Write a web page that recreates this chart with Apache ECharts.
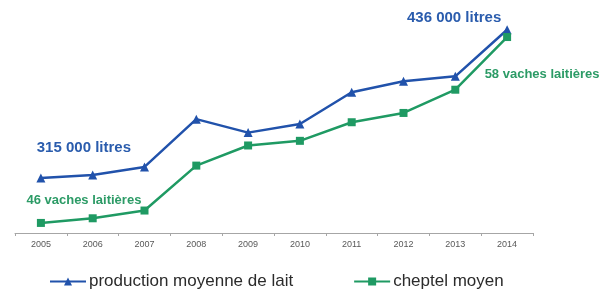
<!DOCTYPE html>
<html>
<head>
<meta charset="utf-8">
<script src="https://cdn.jsdelivr.net/npm/echarts@6/dist/echarts.min.js"></script>
<style>
  html, body { margin: 0; padding: 0; background: #fff; }
  #chart { width: 608px; height: 291px; }
</style>
</head>
<body>
<div id="chart"></div>
<script>
// data
const years = ['2005', '2006', '2007', '2008', '2009', '2010', '2011', '2012', '2013', '2014'];
const production = [315000, 317400, 324000, 363000, 352000, 359000, 385000, 394000, 398000, 436000];
const cheptel = [46, 46.3, 46.8, 49.7, 51, 51.3, 52.5, 53.1, 54.6, 58];
const productionLabels = ['315 000 litres', '436 000 litres'];
const cheptelLabels = ['46 vaches laitières', '58 vaches laitières'];

const BLUE = '#2152ab';
const GREEN = '#1f9a63';
const FONT = 'Liberation Sans, Arial, sans-serif';

const chart = echarts.init(document.getElementById('chart'));

// first and last points get the text labels
function labelled(values, texts, color, firstOffset, lastOffset, size) {
  return values.map((v, i) => {
    if (i === 0 || i === values.length - 1) {
      const first = i === 0;
      return {
        value: v,
        label: {
          show: true,
          formatter: first ? texts[0] : texts[1],
          color: color,
          fontWeight: 'bold',
          fontSize: size,
          fontFamily: FONT,
          position: 'inside',
          offset: first ? firstOffset : lastOffset
        }
      };
    }
    return v;
  });
}

chart.setOption({
  animation: false,
  grid: { left: 15, right: 75, top: 20, bottom: 58 },
  legend: {
    top: 268,
    left: 44,
    itemGap: 60,
    itemWidth: 36,
    itemHeight: 10,
    textStyle: { fontSize: 17, color: '#2b2b2b', fontFamily: FONT, padding: [0, 0, 0, -2] },
    data: ['production moyenne de lait', 'cheptel moyen']
  },
  xAxis: {
    type: 'category',
    data: years,
    boundaryGap: true,
    axisLine: { lineStyle: { color: '#a6a6a6', width: 1 } },
    axisTick: { show: true, length: 3, lineStyle: { color: '#a6a6a6' } },
    axisLabel: { color: '#595959', fontSize: 9, margin: 7, fontFamily: FONT }
  },
  yAxis: [
    { type: 'value', min: 270000, max: 444000, show: false, splitLine: { show: false } },
    { type: 'value', min: 45.35, max: 59.1, show: false, splitLine: { show: false } }
  ],
  series: [
    {
      name: 'production moyenne de lait',
      type: 'line',
      yAxisIndex: 0,
      data: labelled(production, productionLabels, '#2a5cad', [43, -30], [-53, -12], 15),
      symbol: 'triangle',
      symbolSize: 9,
      lineStyle: { color: BLUE, width: 2.5 },
      itemStyle: { color: BLUE }
    },
    {
      name: 'cheptel moyen',
      type: 'line',
      yAxisIndex: 1,
      data: labelled(cheptel, cheptelLabels, '#2c9b66', [43, -23], [35, 37], 13),
      symbol: 'rect',
      symbolSize: 8,
      lineStyle: { color: GREEN, width: 2.5 },
      itemStyle: { color: GREEN }
    }
  ]
});
</script>
</body>
</html>
